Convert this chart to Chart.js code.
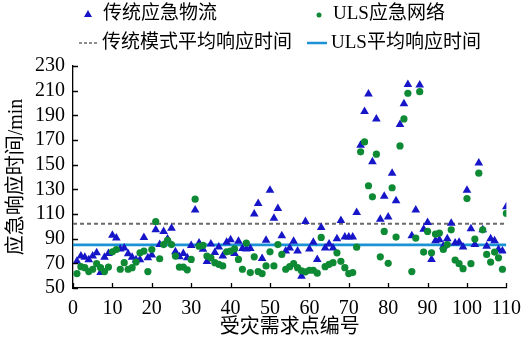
<!DOCTYPE html>
<html>
<head>
<meta charset="utf-8">
<script src="https://cdn.jsdelivr.net/npm/chart.js@4"></script>
<style>
  html, body { margin: 0; padding: 0; background: #fff; }
  #wrap { width: 530px; height: 343px; position: relative; }
</style>
</head>
<body>
<div id="wrap"><canvas id="c" width="530" height="343"></canvas></div>
<script>
// Demand point IDs (x) and response times in minutes for the two modes
const demandPoints = [
  1, 2, 3, 4, 5, 6, 7, 8, 9, 10, 11, 12, 13, 14, 15, 16, 17, 18, 19, 20,
  21, 22, 23, 24, 25, 26, 27, 28, 29, 30, 31, 32, 33, 34, 35, 36, 37, 38, 39, 40,
  41, 42, 43, 44, 45, 46, 47, 48, 49, 50, 51, 52, 53, 54, 55, 56, 57, 58, 59, 60,
  61, 62, 63, 64, 65, 66, 67, 68, 69, 70, 71, 72, 73, 74, 75, 76, 77, 78, 79, 80,
  81, 82, 83, 84, 85, 86, 87, 88, 89, 90, 91, 92, 93, 94, 95, 96, 97, 98, 99, 100,
  101, 102, 103, 104, 105, 106, 107, 108, 109, 110
];
const traditionalTimes = [
  71.6, 75.9, 75, 73, 76, 78.5, 62.5, 75, 78, 92.7,
  90.5, 81.7, 82.5, 77.7, 75, 73, 73, 91, 74.5, 76.7,
  97.2, 85.2, 95.9, 89.7, 98.5, 79.3, 75.3, 78, 74.5, 84.4,
  113.2, 86.5, 81.5, 71.5, 85.7, 78.8, 83.3, 75.9, 87, 89.2,
  78, 87.9, 82, 81.7, 82, 110, 118.5, 74, 88.7, 129.2,
  106.5, 114.5, 92.4, 79.9, 82.5, 87.9, 79.9, 59.5, 103.9, 81.7,
  87, 73.2, 99, 82.5, 85.7, 82.5, 90, 104.7, 91.3, 91.3,
  91.3, 111.3, 165.7, 193.2, 207.3, 152.4, 187.1, 105.7, 124.4, 107.6,
  143.1, 120.7, 182.5, 199.3, 215, 92.4, 113.2, 214.5, 97.7, 103.1,
  73.2, 88.4, 89.2, 83.9, 90, 102.5, 86.5, 87, 83.3, 129.2,
  98, 85.2, 151.3, 97.2, 83.9, 90, 88.4, 81.2, 79.9, 115.9
];
const ulsTimes = [
  61.7, 67.3, 66.5, 63.3, 65.2, 69.7, 66.5, 63.3, 67, 79.3,
  81.2, 65.2, 70.5, 65.2, 66.5, 71, 78.5, 79.9, 63.3, 81.2,
  103.9, 73.7, 85.2, 88.7, 85.2, 75.9, 67, 67, 64.7, 73.2,
  122, 83.9, 84.5, 75.9, 74.5, 70.5, 69.2, 67.9, 79.3, 79.9,
  81.7, 73.2, 65.2, 86.5, 62.5, 75.3, 63.3, 61.7, 67.9, 79.3,
  67.9, 85.2, 77.2, 65.2, 67.3, 69.7, 66.5, 63.9, 63.1, 64.4,
  64.4, 62, 91, 67.3, 69.2, 70.5, 78.5, 71.6, 66.5, 61.7,
  62.5, 83.1, 160.4, 168.4, 132.9, 123.9, 158.5, 75.3, 95.9, 70,
  131.3, 91.3, 165.2, 187.1, 207.9, 63.3, 90.5, 209.2, 79.1, 95.9,
  78.5, 93.7, 94.5, 81.2, 85.2, 97.2, 72.7, 69.7, 65.7, 122.5,
  69.7, 89.7, 143.1, 97.2, 77.2, 71, 79.1, 74.5, 65.2, 110.5
];
const traditionalMean = 102;
const ulsMean = 85;
const meanSpan = [0, 110];

const xTicks = [0, 10, 20, 30, 40, 50, 60, 70, 80, 90, 100, 110];
const yTicks = [50, 70, 90, 110, 130, 150, 170, 190, 210, 230];

const seriesNames = ['传统应急物流', 'ULS应急网络', '传统模式平均响应时间', 'ULS平均响应时间'];
const xTitle = '受灾需求点编号';
const yTitle = '应急响应时间/min';

const FONT_FAMILY = '"Liberation Serif", "Noto Sans CJK SC", serif';
const BLUE_MARK = '#1616c8';
const GREEN_MARK = '#0f8a34';
const MEAN_BLUE = '#1a92d4';
const MEAN_GRAY = '#6a6a6a';

const toPoints = (xs, ys) => xs.map((x, i) => ({ x: x, y: ys[i] }));
const flatLine = (v) => meanSpan.map(x => ({ x: x, y: v }));

// Inward tick marks on the left and bottom axes
const innerTicks = {
  id: 'innerTicks',
  afterDraw(chart) {
    const { ctx, chartArea, scales } = chart;
    ctx.save();
    ctx.strokeStyle = '#000';
    ctx.lineWidth = 1.3;
    ctx.beginPath();
    xTicks.forEach(v => {
      const px = Math.round(scales.x.getPixelForValue(v)) + 0.5;
      ctx.moveTo(px, chartArea.bottom);
      ctx.lineTo(px, chartArea.bottom - 5);
    });
    yTicks.forEach(v => {
      const py = Math.round(scales.y.getPixelForValue(v)) + 0.5;
      ctx.moveTo(chartArea.left, py);
      ctx.lineTo(chartArea.left + 5, py);
    });
    ctx.stroke();
    ctx.restore();
  }
};

// Two-by-two legend above the plot
const gridLegend = {
  id: 'gridLegend',
  afterDraw(chart) {
    const ctx = chart.ctx;
    ctx.save();
    ctx.font = '19px ' + FONT_FAMILY;
    ctx.fillStyle = '#000';
    ctx.textBaseline = 'middle';
    ctx.textAlign = 'left';
    const row1 = 14, row2 = 43;

    // triangle
    ctx.fillStyle = BLUE_MARK;
    ctx.beginPath();
    ctx.moveTo(88, row1 - 4);
    ctx.lineTo(92, row1 + 3);
    ctx.lineTo(84, row1 + 3);
    ctx.closePath();
    ctx.fill();
    // dot
    ctx.fillStyle = GREEN_MARK;
    ctx.beginPath();
    ctx.arc(319, row1 + 1, 2.5, 0, Math.PI * 2);
    ctx.fill();
    // dashed segment
    ctx.strokeStyle = MEAN_GRAY;
    ctx.lineWidth = 1.5;
    ctx.setLineDash([3, 2]);
    ctx.beginPath();
    ctx.moveTo(79, row2);
    ctx.lineTo(98, row2);
    ctx.stroke();
    ctx.setLineDash([]);
    // solid segment
    ctx.strokeStyle = MEAN_BLUE;
    ctx.lineWidth = 2.5;
    ctx.beginPath();
    ctx.moveTo(307, row2);
    ctx.lineTo(327, row2);
    ctx.stroke();

    ctx.fillStyle = '#000';
    ctx.fillText(seriesNames[0], 103, row1);
    ctx.fillText(seriesNames[1], 333, row1);
    ctx.fillText(seriesNames[2], 102, row2);
    ctx.fillText(seriesNames[3], 331, row2);
    ctx.restore();
  }
};

new Chart(document.getElementById('c'), {
  type: 'scatter',
  data: {
    datasets: [
      {
        label: seriesNames[0],
        data: toPoints(demandPoints, traditionalTimes),
        pointStyle: 'triangle',
        pointRadius: 5,
        backgroundColor: BLUE_MARK,
        borderColor: BLUE_MARK,
        borderWidth: 0,
        order: 1
      },
      {
        label: seriesNames[1],
        data: toPoints(demandPoints, ulsTimes),
        pointStyle: 'circle',
        pointRadius: 3.6,
        backgroundColor: GREEN_MARK,
        borderColor: GREEN_MARK,
        borderWidth: 0,
        order: 0
      },
      {
        type: 'line',
        label: seriesNames[2],
        data: flatLine(traditionalMean),
        borderColor: MEAN_GRAY,
        borderWidth: 2,
        borderDash: [4, 3],
        pointRadius: 0,
        fill: false,
        order: 3
      },
      {
        type: 'line',
        label: seriesNames[3],
        data: flatLine(ulsMean),
        borderColor: MEAN_BLUE,
        borderWidth: 2.8,
        pointRadius: 0,
        fill: false,
        order: 2
      }
    ]
  },
  options: {
    responsive: false,
    devicePixelRatio: 1,
    animation: false,
    layout: { padding: { top: 66, right: 20, left: 0, bottom: 0 } },
    plugins: {
      legend: { display: false },
      tooltip: { enabled: false }
    },
    scales: {
      x: {
        type: 'linear',
        min: 0,
        max: 110,
        afterBuildTicks: s => { s.ticks = xTicks.map(v => ({ value: v })); },
        afterFit: s => { s.height = 55; },
        grid: { display: false, drawTicks: false },
        border: { display: true, color: '#000', width: 1.3 },
        ticks: {
          color: '#000',
          padding: 9,
          autoSkip: false,
          maxRotation: 0,
          font: { family: FONT_FAMILY, size: 20 }
        },
        title: {
          display: true,
          text: xTitle,
          color: '#000',
          padding: { top: 0, bottom: 3 },
          font: { family: FONT_FAMILY, size: 20 }
        }
      },
      y: {
        type: 'linear',
        min: 50,
        max: 230,
        afterBuildTicks: s => { s.ticks = yTicks.map(v => ({ value: v })); },
        afterFit: s => { s.width = 73; },
        grid: { display: false, drawTicks: false },
        border: { display: true, color: '#000', width: 1.3 },
        ticks: {
          color: '#000',
          padding: 8,
          autoSkip: false,
          font: { family: FONT_FAMILY, size: 20 }
        },
        title: {
          display: true,
          text: yTitle,
          color: '#000',
          padding: { top: 5, bottom: 0 },
          font: { family: FONT_FAMILY, size: 20 }
        }
      }
    }
  },
  plugins: [innerTicks, gridLegend]
});
</script>
</body>
</html>
